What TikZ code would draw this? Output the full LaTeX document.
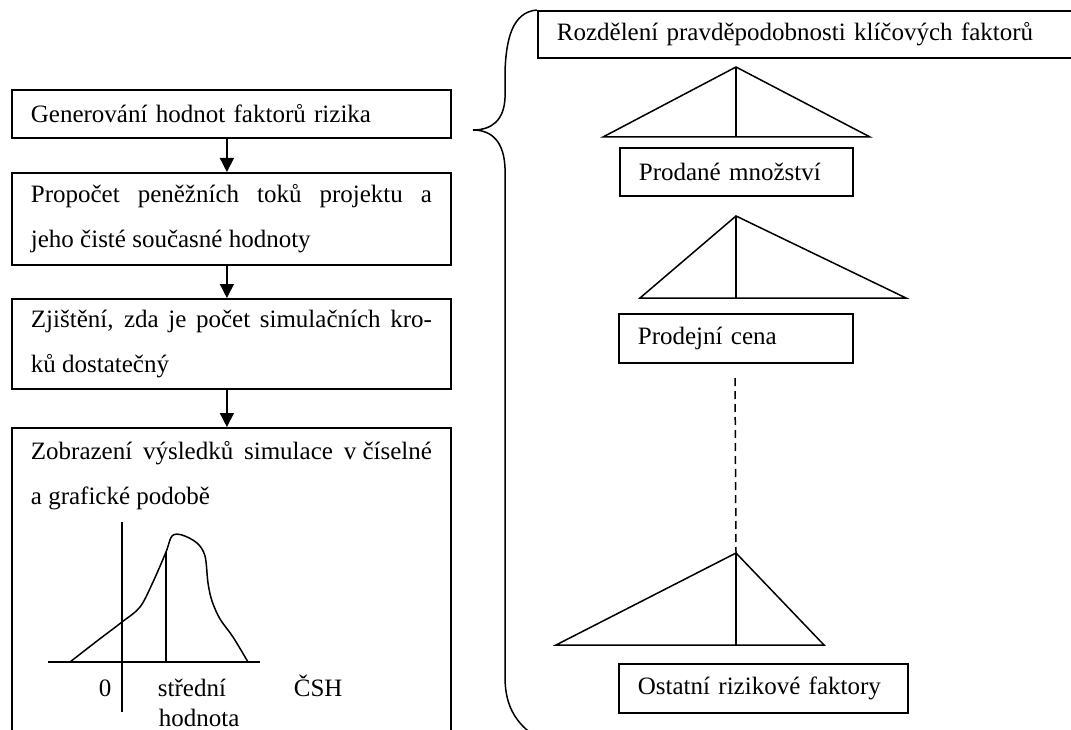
\documentclass[tikz,border=0pt]{standalone}
\usepackage{fontspec}
\setmainfont{Liberation Serif}
\usetikzlibrary{arrows.meta,calc}
\begin{document}
\begin{tikzpicture}[x=1pt,y=-1pt,line width=1.8pt,
  box/.style={draw,rectangle,anchor=north west,inner xsep=19pt,inner ysep=0pt,align=left,font=\fontsize{25}{45}\selectfont},
  jbox/.style={box,align=justify},
  lbl/.style={inner sep=0pt,font=\fontsize{25}{30}\selectfont},
  arr/.style={-{Triangle[length=14pt,width=14pt]}},
  thin/.style={line width=1.5pt},
  tri/.style={line join=miter}]
\useasboundingbox (0,0) rectangle (1071,730);
\clip (0,0) rectangle (1071,730);
% left column
\node[box,text width=401pt,minimum height=48pt] (b1) at (11,89) {Generování hodnot faktorů rizika};
\node[jbox,text width=401pt,minimum height=92pt] (b2) at (11,172)
  {\makebox[401pt][s]{Propočet peněžních toků projektu a}\\jeho čisté současné hodnoty};
\node[jbox,text width=401pt,minimum height=90pt] (b3) at (11,298)
  {\makebox[401pt][s]{Zjištění, zda je počet simulačních kro-}\\ků dostatečný};
\node[draw,rectangle,anchor=north west,inner sep=0pt,minimum width=439pt,minimum height=330pt] (b4) at (11,427) {};
\node[lbl,anchor=base west] (t4a) at (30,459) {\makebox[401pt][s]{Zobrazení výsledků simulace \mbox{v číselné}}};
\node[lbl,anchor=base west] (t4b) at (30,504) {a grafické podobě};
\draw[arr,thin] ([xshift=-4.5pt]b1.south) -- ([xshift=-4.5pt]b2.north);
\draw[arr,thin] ([xshift=-4.5pt]b2.south) -- ([xshift=-4.5pt]b3.north);
\draw[arr,thin] ([xshift=-4.5pt]b3.south) -- ([xshift=-4.5pt]b4.north);
% chart
\draw[thin] (48,662) -- (260,662);
\draw[thin] (122,522) -- (122,712);
\draw[thin] (166,662) -- (166,552);
\draw[thin] plot[smooth,tension=0.55] coordinates {(70,662) (97,641) (122,622) (140,607) (153,582) (166,552) (172,536) (182,535) (197,543) (205,556) (208,583) (212,601) (220,619) (233,637) (248,662)};
\node[lbl,anchor=base] (zero) at (105,696) {0};
\node[lbl,anchor=base west] (sh1) at (157,696) {střední};
\node[lbl,anchor=base west] (sh2) at (158,726) {hodnota};
\node[lbl,anchor=base west] (csh) at (293,696) {ČSH};
% brace
\draw[thin] (537,10) .. controls (512,12) and (506,40) .. (505,72) -- (505,98)
  .. controls (504,120) and (492,130) .. (473,130)
  .. controls (492,130) and (504,142) .. (505,168) -- (505,677)
  .. controls (505,702) and (513,720) .. (532,734);
% right column
\node[box,text width=520pt,minimum height=47pt] (title) at (537,10) {Rozdělení pravděpodobnosti klíčových faktorů};
\node[box,text width=195pt,minimum height=48pt] (pm) at (619,147) {Prodané množství};
\node[box,text width=196pt,minimum height=49pt] (pc) at (618,313) {Prodejní cena};
\node[box,text width=251pt,minimum height=49pt] (or) at (618,663) {Ostatní rizikové faktory};
% triangles
\coordinate (a1) at (736,67);
\coordinate (a2) at (736,216);
\coordinate (a3) at (736,553);
\draw[tri,thin] (603,137) -- (a1) -- (870,137) -- cycle;
\draw[thin] (a1) -- (736,137);
\draw[tri,thin] (640,298) -- (a2) -- (906,298) -- cycle;
\draw[thin] (a2) -- (736,298);
\draw[tri,thin] (556,645) -- (a3) -- (824,645) -- cycle;
\draw[thin] (a3) -- (736,645);
\coordinate (d1) at (735,378);
\draw[thin,dash pattern=on 8pt off 5pt] (d1) -- (a3);
\end{tikzpicture}
\end{document}
